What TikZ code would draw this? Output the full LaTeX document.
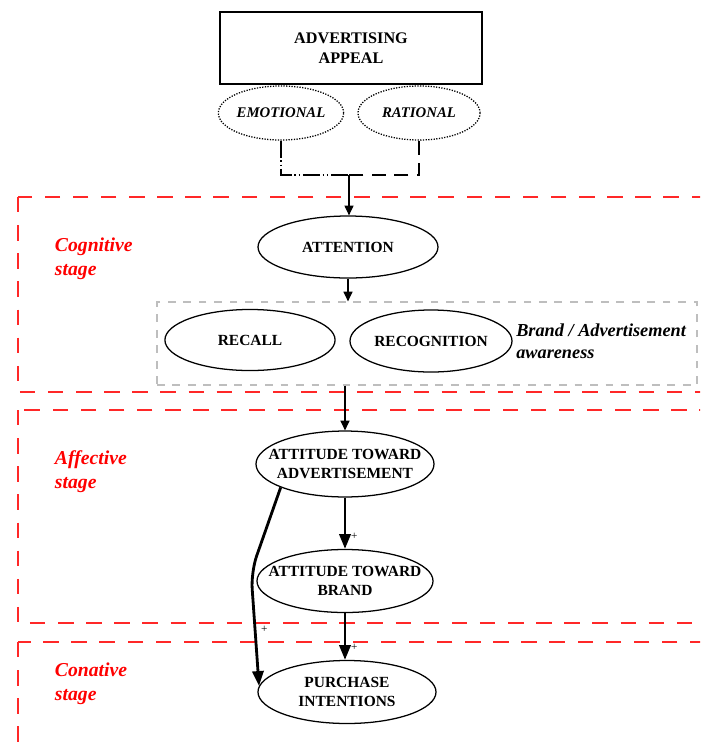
\documentclass[tikz,border=0pt]{standalone}
\usepackage{fontspec}
\setmainfont{Liberation Serif}
\usetikzlibrary{shapes.geometric,arrows.meta,positioning}
\definecolor{stagered}{RGB}{255,40,40}
\definecolor{boxgray}{RGB}{190,190,190}
\tikzset{
    state/.style={shape=ellipse,draw=black,line width=0.9pt,inner xsep=-12pt,inner ysep=0pt,align=center,font=\fontsize{11}{13}\selectfont\bfseries},
    appeal/.style={shape=ellipse,draw=black,densely dotted,line width=0.9pt,inner sep=0pt,minimum width=88.9pt,minimum height=38.4pt,font=\fontsize{10.5}{12.5}\selectfont\bfseries\itshape},
    stagebox/.style={draw=stagered,line width=1pt,dash pattern=on 11pt off 9pt},
    stagelabel/.style={text=red,anchor=north west,align=left,font=\fontsize{14}{17}\selectfont\bfseries\itshape},
    link/.style={-{Triangle[length=7pt,width=6.5pt]},line width=0.8pt},
    strong/.style={-{Triangle[length=10.5pt,width=8pt]},line width=2pt},
    sign/.style={font=\fontsize{8}{9}\selectfont}
}
\begin{document}
\begin{tikzpicture}[x=0.025cm,y=-0.025cm]
    \useasboundingbox (0,0) rectangle (700,745);
    % stages
    \begin{scope}
        \clip (0,0) rectangle (700,745);
        \draw[stagebox] (18,197) rectangle (730,392);
        \draw[stagebox] (18,410) rectangle (730,623);
        \draw[stagebox] (18,642) rectangle (730,780);
    \end{scope}
    \node[stagelabel] (cogn) at (50,233) {Cognitive\\stage};
    \node[stagelabel] (affe) at (50,446) {Affective\\stage};
    \node[stagelabel] (cona) at (50,658) {Conative\\stage};

    % appeal
    \node[draw=black,line width=1pt,minimum width=186.4pt,minimum height=51.2pt,align=center,
          font=\fontsize{11.5}{14.5}\selectfont\bfseries] (appeal) at (351,48) {ADVERTISING\\APPEAL};
    \node[appeal] (emo) at (281,113) {EMOTIONAL};
    \node[appeal,minimum width=86.8pt] (rat) at (419,113) {RATIONAL};
    \coordinate (junc) at (349,175);
    \draw[line width=1pt,dash pattern=on 12pt off 2pt on 1pt off 2pt on 1pt off 2pt] (emo.south) |- (junc);
    \draw[line width=1pt,dash pattern=on 10pt off 6pt] (rat.south) |- (junc);

    % cognitive
    \node[state,minimum width=128pt,minimum height=44.1pt] (att) at (348,247) {ATTENTION};
    \node[draw=boxgray,line width=0.9pt,dash pattern=on 5.5pt off 5.5pt,minimum width=384.1pt,minimum height=59pt] (aware) at (427,343.5) {};
    \node[state,minimum width=121pt,minimum height=43.4pt] (recall) at (250,340) {RECALL};
    \node[state,minimum width=115.2pt,minimum height=44.1pt] (recog) at (431,341) {RECOGNITION};
    \node[anchor=west,align=left,inner sep=0pt,font=\fontsize{13}{15.5}\selectfont\bfseries\itshape] (awtext) at (516,341) {Brand / Advertisement\\awareness};
    \draw[link] (junc) -- (junc |- att.north);
    \draw[link] (att.south) -- (att.south |- aware.north);

    % affective and conative
    \node[state,minimum width=126.6pt,minimum height=46.9pt] (adatt) at (345,464) {ATTITUDE TOWARD\\ADVERTISEMENT};
    \node[state,minimum width=125.2pt,minimum height=44.8pt] (brand) at (345,581) {ATTITUDE TOWARD\\BRAND};
    \node[state,minimum width=126.6pt,minimum height=44.8pt] (purch) at (347,692) {PURCHASE\\INTENTIONS};
    \draw[link] (adatt.north |- aware.south) -- (adatt.north);
    \draw[strong] (adatt.south) -- node[sign,right,pos=0.76] {+} (brand.north);
    \draw[strong] (brand.south) -- node[sign,right,pos=0.73] {+} (brand.south |- purch.north);
    \draw[strong,rounded corners=12pt] (adatt.200) -- (251,572)
        -- node[sign,right,pos=0.5] {+} (purch.176);
\end{tikzpicture}
\end{document}
